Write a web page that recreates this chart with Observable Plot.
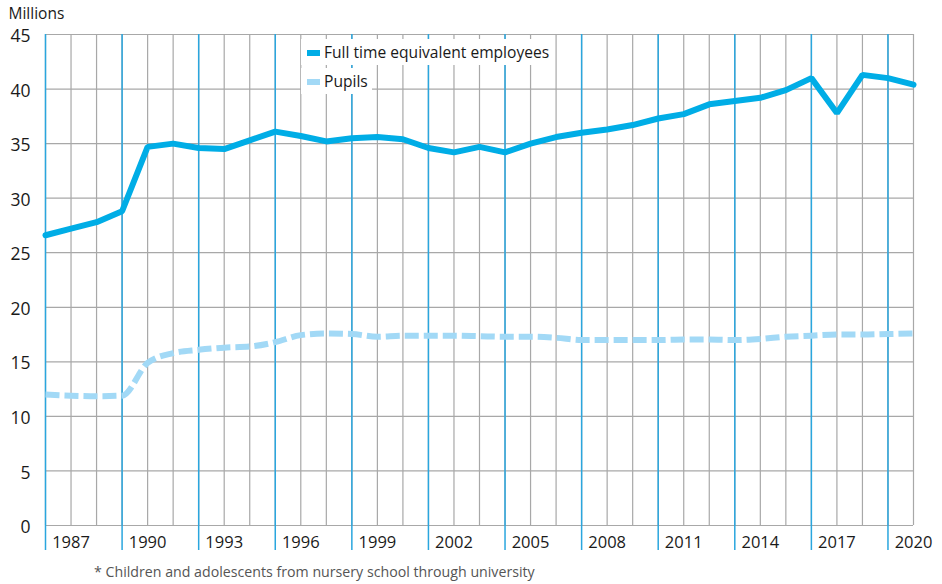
<!DOCTYPE html>
<html>
<head>
<meta charset="utf-8">
<script src="https://cdn.jsdelivr.net/npm/d3@7"></script>
<script src="https://cdn.jsdelivr.net/npm/@observablehq/plot@0.6"></script>
<style>
  html, body { margin: 0; padding: 0; background: #fff; }
  body { width: 942px; height: 584px; position: relative; overflow: hidden; font-family: "Open Sans", sans-serif; }
  #chart { position: absolute; left: 0; top: 0; }
  .leg { position: absolute; background: #fff; color: #1a1a1a; font-size: 15.6px; line-height: 26px; padding-left: 6px; padding-right: 4px; white-space: nowrap; }
  .sw { display: inline-block; width: 13px; height: 6px; margin-right: 4px; vertical-align: middle; position: relative; top: -1px; }
  #caption { position: absolute; left: 94px; top: 562px; font-size: 14.2px; color: #555; white-space: nowrap; }
</style>
</head>
<body>
<div id="chart"></div>
<div class="leg" id="leg1" style="left:301px; top:39px;"><span class="sw" style="background:#00ade6"></span>Full time equivalent employees</div>
<div class="leg" id="leg2" style="left:301px; top:68px;"><span class="sw" style="background:#a2d9f6"></span>Pupils</div>
<div id="caption">* Children and adolescents from nursery school through university</div>
<script>
const years = d3.range(1986, 2021);
const employees = [26.6, 27.2, 27.8, 28.8, 34.7, 35.0, 34.6, 34.5, 35.3, 36.1, 35.7, 35.2, 35.5, 35.6, 35.4, 34.6, 34.2, 34.7, 34.2, 35.0, 35.6, 36.0, 36.3, 36.7, 37.3, 37.7, 38.6, 38.9, 39.2, 39.9, 41.0, 37.8, 41.3, 41.0, 40.4];
const pupils = [12.0, 11.9, 11.85, 11.9, 14.9, 15.8, 16.1, 16.3, 16.4, 16.8, 17.45, 17.6, 17.55, 17.3, 17.4, 17.4, 17.4, 17.35, 17.3, 17.3, 17.2, 17.0, 17.0, 17.0, 17.0, 17.05, 17.05, 17.0, 17.1, 17.3, 17.4, 17.5, 17.5, 17.55, 17.6];
const yTicks = [0, 5, 10, 15, 20, 25, 30, 35, 40, 45];
const xLabels = [1987, 1990, 1993, 1996, 1999, 2002, 2005, 2008, 2011, 2014, 2017, 2020];
const blueLines = [1986, 1989, 1992, 1995, 1998, 2001, 2004, 2007, 2010, 2013, 2016, 2019];

const empData = years.map((y, i) => ({year: y, value: employees[i]}));
const pupData = years.map((y, i) => ({year: y, value: pupils[i]}));

const plot = Plot.plot({
  width: 942,
  height: 560,
  marginLeft: 45,
  marginRight: 29,
  marginTop: 34,
  marginBottom: 35,
  style: {fontFamily: "Open Sans, sans-serif", fontSize: "18px", color: "#1a1a1a", background: "#fff"},
  x: {domain: [1986, 2020], axis: null, label: null},
  y: {domain: [0, 45], axis: null, label: null},
  marks: [
    Plot.ruleY(yTicks, {stroke: "#a8a8a8", strokeWidth: 1.2}),
    Plot.ruleX(years, {stroke: "#a8a8a8", strokeWidth: 1.2}),
    Plot.ruleX(blueLines, {y1: 45, y2: -2.3, stroke: "#2aa6de", strokeWidth: 1.5}),
    Plot.line(pupData, {x: "year", y: "value", stroke: "#a2d9f6", strokeWidth: 6, strokeDasharray: "14,5", strokeLinecap: "butt", curve: "monotone-x"}),
    Plot.line(empData, {x: "year", y: "value", stroke: "#00ade6", strokeWidth: 6, strokeLinejoin: "miter"}),
    Plot.axisY(yTicks, {tickSize: 0, tickPadding: 15, fontSize: 17.5, fill: "#1a1a1a", label: null, dy: 2}),
    Plot.axisX(xLabels, {tickSize: 0, tickPadding: 10, fontSize: 16.5, fill: "#1a1a1a", tickFormat: d => String(d), anchor: "bottom", label: null, dy: 1}),
    Plot.text(["Millions"], {frameAnchor: "top-left", dx: -37, dy: -20, textAnchor: "start", lineAnchor: "middle", fontSize: 15.5, fill: "#1a1a1a"})
  ]
});
document.getElementById("chart").appendChild(plot);
</script>
</body>
</html>
